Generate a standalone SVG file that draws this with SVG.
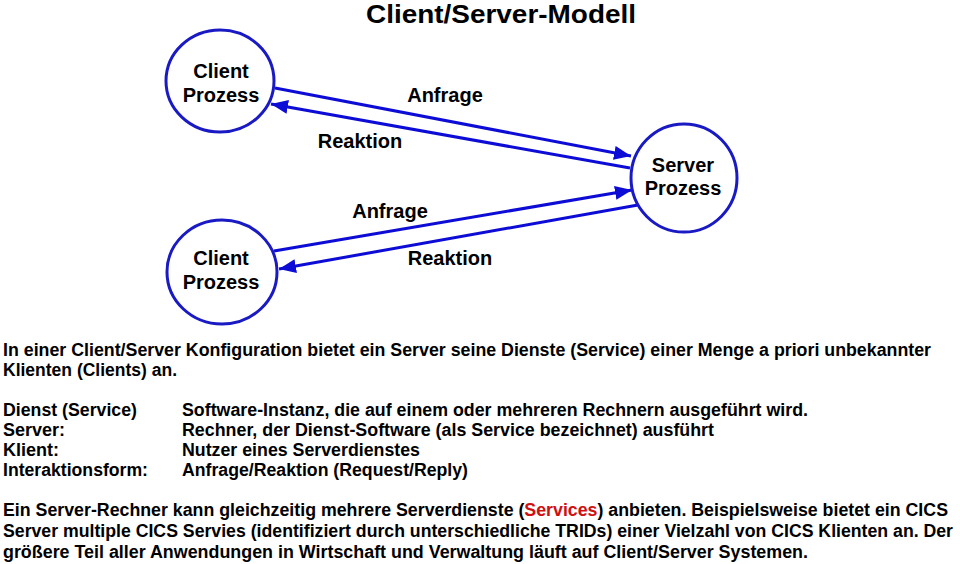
<svg xmlns="http://www.w3.org/2000/svg" width="960" height="564" viewBox="0 0 960 564">
<style>
text{font-family:"Liberation Sans",Arial,Helvetica,sans-serif;font-weight:bold;fill:#000}
.node{font-size:20px;text-anchor:middle}
.lbl{font-size:20px;text-anchor:middle}
.body{font-size:18px}
.c{fill:#fff;stroke:#1a1ac4;stroke-width:3}
.a{stroke:#0c0cd6;stroke-width:3;fill:none;marker-end:url(#ah)}
</style>
<defs>
<marker id="ah" markerUnits="userSpaceOnUse" markerWidth="18" markerHeight="14" refX="17" refY="7" orient="auto">
<path d="M0,0 L17,7 L0,14 Z" fill="#0c0cd6"/>
</marker>
</defs>
<rect width="960" height="564" fill="#fff"/>
<text x="501" y="23" style="font-size:26px;text-anchor:middle" textLength="270" lengthAdjust="spacingAndGlyphs">Client/Server-Modell</text>

<g id="connectors">
<line class="a" x1="275" y1="88" x2="631" y2="156"/>
<line class="a" x1="630" y1="168" x2="271" y2="104"/>
<line class="a" x1="274" y1="251" x2="632" y2="190"/>
<line class="a" x1="638" y1="205" x2="279" y2="269"/>
<text class="lbl" x="445" y="102">Anfrage</text>
<text class="lbl" x="360" y="148">Reaktion</text>
<text class="lbl" x="390" y="218">Anfrage</text>
<text class="lbl" x="450" y="265">Reaktion</text>
</g>

<g id="client1">
<ellipse class="c" cx="220" cy="81" rx="54" ry="51"/>
<text class="node" x="221" y="78">Client</text>
<text class="node" x="221" y="102">Prozess</text>
</g>
<g id="server">
<ellipse class="c" cx="684" cy="178" rx="53" ry="54"/>
<text class="node" x="683" y="172">Server</text>
<text class="node" x="683" y="195">Prozess</text>
</g>
<g id="client2">
<ellipse class="c" cx="222" cy="272" rx="55" ry="52"/>
<text class="node" x="221" y="265">Client</text>
<text class="node" x="221" y="289">Prozess</text>
</g>

<g id="text">
<text class="body" x="3" y="356" textLength="928" lengthAdjust="spacingAndGlyphs">In einer Client/Server Konfiguration bietet ein Server seine Dienste (Service) einer Menge a priori unbekannter</text>
<text class="body" x="3" y="376" textLength="174" lengthAdjust="spacingAndGlyphs">Klienten (Clients) an.</text>
<text class="body" x="3" y="416" textLength="134" lengthAdjust="spacingAndGlyphs">Dienst (Service)</text>
<text class="body" x="3" y="436">Server:</text>
<text class="body" x="3" y="456">Klient:</text>
<text class="body" x="3" y="476" textLength="145" lengthAdjust="spacingAndGlyphs">Interaktionsform:</text>
<text class="body" x="182" y="416" textLength="626" lengthAdjust="spacingAndGlyphs">Software-Instanz, die auf einem oder mehreren Rechnern ausgeführt wird.</text>
<text class="body" x="182" y="436" textLength="532" lengthAdjust="spacingAndGlyphs">Rechner, der Dienst-Software (als Service bezeichnet) ausführt</text>
<text class="body" x="182" y="456" textLength="238" lengthAdjust="spacingAndGlyphs">Nutzer eines Serverdienstes</text>
<text class="body" x="182" y="476" textLength="286" lengthAdjust="spacingAndGlyphs">Anfrage/Reaktion (Request/Reply)</text>
<text class="body" x="3" y="516" textLength="945" lengthAdjust="spacingAndGlyphs">Ein Server-Rechner kann gleichzeitig mehrere Serverdienste (<tspan fill="#d01010">Services</tspan>) anbieten. Beispielsweise bietet ein CICS</text>
<text class="body" x="3" y="537" textLength="950" lengthAdjust="spacingAndGlyphs">Server multiple CICS Servies (identifiziert durch unterschiedliche TRIDs) einer Vielzahl von CICS Klienten an. Der</text>
<text class="body" x="3" y="558" textLength="805" lengthAdjust="spacingAndGlyphs">größere Teil aller Anwendungen in Wirtschaft und Verwaltung läuft auf Client/Server Systemen.</text>
</g>
</svg>
